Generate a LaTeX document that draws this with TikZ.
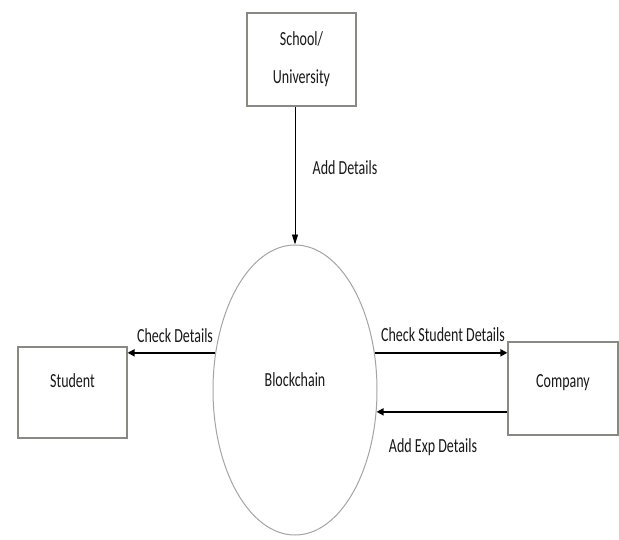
\documentclass[tikz,border=0pt]{standalone}
\usepackage{fontspec}
\setmainfont{Carlito}
\usepackage{graphicx}
\usetikzlibrary{shapes.geometric,arrows.meta}
\definecolor{boxgray}{RGB}{135,138,128}
\definecolor{ellgray}{RGB}{165,165,160}
\definecolor{txt}{RGB}{25,25,25}
\newcommand{\nar}[1]{\scalebox{0.7}[1]{#1}}
\newcommand{\up}[2]{\raisebox{#1}[\height][\depth]{#2}}
\begin{document}
\begin{tikzpicture}[x=1pt,y=-1pt,
  every node/.style={font=\fontsize{20}{38}\selectfont, text=txt},
  box/.style={draw=boxgray, line width=1.2pt, inner sep=0pt, fill=white, align=center},
  proc/.style={ellipse, draw=ellgray, line width=1pt, inner sep=0pt, minimum width=164pt, minimum height=290pt},
  flow/.style={line width=2pt, -{Triangle[length=7pt,width=7pt]}},
  thinflow/.style={line width=0.9pt, -{Triangle[length=10pt,width=6pt]}},
  lbl/.style={inner sep=0pt}]
\useasboundingbox[fill=white] (0,0) rectangle (619,539);

\node[box, minimum width=109pt, minimum height=93pt] (sch) at (301.5,59.5) {\nar{School/}\\\nar{University}};
\node[box, minimum width=109pt, minimum height=91pt] (stu) at (72.5,392.5) {\up{12pt}{\nar{Student}}};
\node[box, minimum width=110pt, minimum height=93pt] (com) at (563,388.5) {\up{6pt}{\nar{Company}}};
\node[proc] (blk) at (295,390) {\up{10pt}{\nar{Blockchain}}};

\draw[thinflow] (sch.south -| blk.north) -- (blk.north);
\draw[flow] (blk.155) -- (blk.155 -| stu.east);
\draw[flow] (blk.25) -- (blk.25 -| com.west);
\draw[flow] (blk.345 -| com.west) -- (blk.345);

\node[lbl] (l1) at (345,168) {\nar{Add Details}};
\node[lbl] (l2) at (175,336) {\nar{Check Details}};
\node[lbl] (l3) at (443,335) {\nar{Check Student Details}};
\node[lbl] (l4) at (433,447) {\nar{Add Exp Details}};
\end{tikzpicture}
\end{document}
